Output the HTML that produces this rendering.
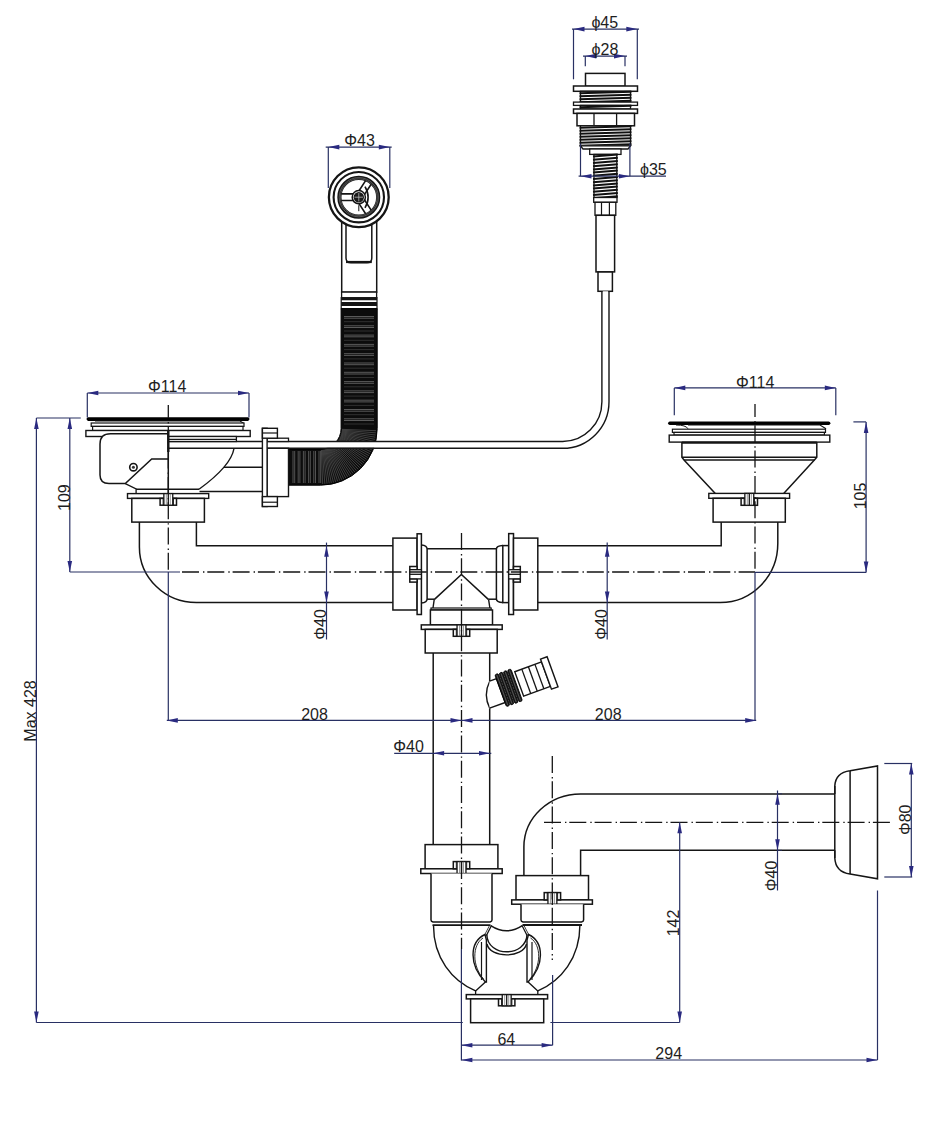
<!DOCTYPE html>
<html><head><meta charset="utf-8"><style>
html,body{margin:0;padding:0;background:#fff;overflow:hidden;}
svg{display:block;font-family:"Liberation Sans",sans-serif;}
</style></head><body>
<svg width="927" height="1139" viewBox="0 0 927 1139">
<rect width="927" height="1139" fill="#fff"/>
<rect x="585.5" y="73.4" width="39.5" height="12.9" fill="#fff" stroke="#151515" stroke-width="1.5" />
<rect x="573.5" y="86" width="64.0" height="5.3" fill="#fff" stroke="#151515" stroke-width="1.5" />
<rect x="580.5" y="91.3" width="50.0" height="10.8" fill="#fff" stroke="#151515" stroke-width="1.3" />
<line x1="579.5" y1="93.25" x2="631.5" y2="91.75" stroke="#111" stroke-width="2.0" />
<line x1="579.5" y1="96.25" x2="631.5" y2="94.75" stroke="#111" stroke-width="2.0" />
<line x1="579.5" y1="99.25" x2="631.5" y2="97.75" stroke="#111" stroke-width="2.0" />
<line x1="579.5" y1="102.25" x2="631.5" y2="100.75" stroke="#111" stroke-width="2.0" />
<rect x="573.5" y="102.1" width="64.0" height="3.3" fill="#fff" stroke="#151515" stroke-width="1.3" />
<rect x="580.5" y="105.4" width="50.0" height="3.6" fill="#fff" stroke="#151515" stroke-width="1.3" />
<line x1="579.5" y1="107.35000000000001" x2="631.5" y2="105.85000000000001" stroke="#111" stroke-width="2.0" />
<rect x="573.5" y="109" width="64.0" height="4.4" fill="#fff" stroke="#151515" stroke-width="1.5" />
<rect x="577" y="113.4" width="57.5" height="12.4" fill="#fff" stroke="#151515" stroke-width="1.5" />
<line x1="594" y1="113.4" x2="594" y2="125.8" stroke="#151515" stroke-width="1.3" />
<line x1="616.6" y1="113.4" x2="616.6" y2="125.8" stroke="#151515" stroke-width="1.3" />
<rect x="580.5" y="125.8" width="50.0" height="20.0" fill="#fff" stroke="#151515" stroke-width="1.3" />
<line x1="579.5" y1="127.75" x2="631.5" y2="126.25" stroke="#111" stroke-width="2.0" />
<line x1="579.5" y1="130.75" x2="631.5" y2="129.25" stroke="#111" stroke-width="2.0" />
<line x1="579.5" y1="133.75" x2="631.5" y2="132.25" stroke="#111" stroke-width="2.0" />
<line x1="579.5" y1="136.75" x2="631.5" y2="135.25" stroke="#111" stroke-width="2.0" />
<line x1="579.5" y1="139.75" x2="631.5" y2="138.25" stroke="#111" stroke-width="2.0" />
<line x1="579.5" y1="142.75" x2="631.5" y2="141.25" stroke="#111" stroke-width="2.0" />
<line x1="579.5" y1="145.75" x2="631.5" y2="144.25" stroke="#111" stroke-width="2.0" />
<path d="M580.5,145.8 L630.5,145.8 L628,149 L583,149 Z" fill="#fff" stroke="#151515" stroke-width="1.3" />
<rect x="589.7" y="149" width="31.3" height="5.4" fill="#fff" stroke="#151515" stroke-width="1.3" />
<rect x="594" y="154.4" width="22.8" height="43.1" fill="#fff" stroke="#151515" stroke-width="1.3" />
<line x1="593" y1="156.6" x2="617.8" y2="154.6" stroke="#111" stroke-width="2.0" />
<line x1="593" y1="159.79999999999998" x2="617.8" y2="157.79999999999998" stroke="#111" stroke-width="2.0" />
<line x1="593" y1="162.99999999999997" x2="617.8" y2="160.99999999999997" stroke="#111" stroke-width="2.0" />
<line x1="593" y1="166.19999999999996" x2="617.8" y2="164.19999999999996" stroke="#111" stroke-width="2.0" />
<line x1="593" y1="169.39999999999995" x2="617.8" y2="167.39999999999995" stroke="#111" stroke-width="2.0" />
<line x1="593" y1="172.59999999999994" x2="617.8" y2="170.59999999999994" stroke="#111" stroke-width="2.0" />
<line x1="593" y1="175.79999999999993" x2="617.8" y2="173.79999999999993" stroke="#111" stroke-width="2.0" />
<line x1="593" y1="178.99999999999991" x2="617.8" y2="176.99999999999991" stroke="#111" stroke-width="2.0" />
<line x1="593" y1="182.1999999999999" x2="617.8" y2="180.1999999999999" stroke="#111" stroke-width="2.0" />
<line x1="593" y1="185.3999999999999" x2="617.8" y2="183.3999999999999" stroke="#111" stroke-width="2.0" />
<line x1="593" y1="188.59999999999988" x2="617.8" y2="186.59999999999988" stroke="#111" stroke-width="2.0" />
<line x1="593" y1="191.79999999999987" x2="617.8" y2="189.79999999999987" stroke="#111" stroke-width="2.0" />
<line x1="593" y1="194.99999999999986" x2="617.8" y2="192.99999999999986" stroke="#111" stroke-width="2.0" />
<line x1="593" y1="198.19999999999985" x2="617.8" y2="196.19999999999985" stroke="#111" stroke-width="2.0" />
<rect x="593.7" y="197.5" width="23.3" height="4.8" fill="#fff" stroke="#151515" stroke-width="1.3" />
<rect x="595" y="202.3" width="20.8" height="13.0" fill="#fff" stroke="#151515" stroke-width="1.3" />
<line x1="601.5" y1="202.3" x2="601.5" y2="215.3" stroke="#151515" stroke-width="1.2" />
<line x1="609.4" y1="202.3" x2="609.4" y2="215.3" stroke="#151515" stroke-width="1.2" />
<rect x="596" y="215.3" width="18.6" height="56.6" fill="#fff" stroke="#151515" stroke-width="1.5" />
<rect x="598" y="272" width="14.4" height="19.3" fill="#fff" stroke="#151515" stroke-width="1.5" />
<rect x="341.7" y="215" width="35.0" height="77.1" fill="#fff" stroke="#151515" stroke-width="1.5" />
<path d="M346,222 L346,258 Q346,262.8 351,262.8 L367,262.8 Q371.8,262.8 371.8,258 L371.8,222" fill="none" stroke="#151515" stroke-width="1.5" />
<line x1="346" y1="262" x2="371.8" y2="262" stroke="#151515" stroke-width="2.2" />
<circle cx="358.8" cy="197.2" r="29.9" fill="#fff" stroke="#151515" stroke-width="2.3"/>
<circle cx="358.8" cy="197.2" r="25.2" fill="#fff" stroke="#151515" stroke-width="2.1"/>
<circle cx="358.8" cy="197.2" r="19.4" fill="#fff" stroke="#161616" stroke-width="4.2"/>
<circle cx="358.8" cy="197.2" r="19.6" fill="none" stroke="#999" stroke-width="0.5"/>
<circle cx="358.8" cy="197.2" r="18.3" fill="none" stroke="#aaa" stroke-width="0.4"/>
<g transform="translate(358.8,197.2) rotate(-180)"><path d="M4,-3.3 L17.6,-3.3 M4,3.3 L17.6,3.3" fill="none" stroke="#151515" stroke-width="1.6"/></g>
<g transform="translate(358.8,197.2) rotate(-57)"><path d="M4,-3.3 L17.6,-3.3 M4,3.3 L17.6,3.3" fill="none" stroke="#151515" stroke-width="1.6"/></g>
<g transform="translate(358.8,197.2) rotate(57)"><path d="M4,-3.3 L17.6,-3.3 M4,3.3 L17.6,3.3" fill="none" stroke="#151515" stroke-width="1.6"/></g>
<path d="M365.0,186.6 Q368.3,192.2 368.1,197.2 Q368.3,202.2 365.0,207.79999999999998" fill="none" stroke="#151515" stroke-width="1.6"/>
<circle cx="358.8" cy="197.2" r="6.6" fill="#fff" stroke="#151515" stroke-width="1.5"/>
<circle cx="358.8" cy="197.2" r="5.2" fill="#1a1a1a"/>
<line x1="354.6" y1="197.2" x2="363.0" y2="197.2" stroke="#ccc" stroke-width="0.7" />
<line x1="358.8" y1="193.0" x2="358.8" y2="201.39999999999998" stroke="#ccc" stroke-width="0.7" />
<line x1="358.8" y1="205.2" x2="358.8" y2="211.2" stroke="#151515" stroke-width="1.0" />
<rect x="341.6" y="292.1" width="35.0" height="5.6" fill="#fff" stroke="#151515" stroke-width="1.3" />
<rect x="341.2" y="297.7" width="35.8" height="11.0" fill="#fff" stroke="#151515" stroke-width="1.2" />
<line x1="341.2" y1="299" x2="377" y2="299" stroke="#151515" stroke-width="2.4" />
<line x1="341.2" y1="304" x2="377" y2="304" stroke="#151515" stroke-width="4" />
<g>
<path d="M341.1,308.7 L377.2,308.7 L377.2,428.5 A56.7,56.7 0 0 1 320.5,485.2 L288.5,485.2 L288.5,449.1 L320.5,449.1 A20.6,20.6 0 0 0 341.1,428.5 Z" fill="#0c0c0c" stroke="#000" stroke-width="1"/>
<line x1="344" y1="316.5" x2="374" y2="316.5" stroke="#a8a8a8" stroke-width="0.5" />
<line x1="344" y1="318.2" x2="374" y2="318.2" stroke="#a8a8a8" stroke-width="0.5" />
<line x1="344" y1="321.7" x2="374" y2="321.7" stroke="#555" stroke-width="0.5" />
<line x1="344" y1="325.8" x2="374" y2="325.8" stroke="#a8a8a8" stroke-width="0.5" />
<line x1="344" y1="327.5" x2="374" y2="327.5" stroke="#a8a8a8" stroke-width="0.5" />
<line x1="344" y1="331.0" x2="374" y2="331.0" stroke="#555" stroke-width="0.5" />
<line x1="344" y1="335.1" x2="374" y2="335.1" stroke="#a8a8a8" stroke-width="0.5" />
<line x1="344" y1="336.8" x2="374" y2="336.8" stroke="#a8a8a8" stroke-width="0.5" />
<line x1="344" y1="340.3" x2="374" y2="340.3" stroke="#555" stroke-width="0.5" />
<line x1="344" y1="344.40000000000003" x2="374" y2="344.40000000000003" stroke="#a8a8a8" stroke-width="0.5" />
<line x1="344" y1="346.1" x2="374" y2="346.1" stroke="#a8a8a8" stroke-width="0.5" />
<line x1="344" y1="349.6" x2="374" y2="349.6" stroke="#555" stroke-width="0.5" />
<line x1="344" y1="353.70000000000005" x2="374" y2="353.70000000000005" stroke="#a8a8a8" stroke-width="0.5" />
<line x1="344" y1="355.40000000000003" x2="374" y2="355.40000000000003" stroke="#a8a8a8" stroke-width="0.5" />
<line x1="344" y1="358.90000000000003" x2="374" y2="358.90000000000003" stroke="#555" stroke-width="0.5" />
<line x1="344" y1="363.00000000000006" x2="374" y2="363.00000000000006" stroke="#a8a8a8" stroke-width="0.5" />
<line x1="344" y1="364.70000000000005" x2="374" y2="364.70000000000005" stroke="#a8a8a8" stroke-width="0.5" />
<line x1="344" y1="368.20000000000005" x2="374" y2="368.20000000000005" stroke="#555" stroke-width="0.5" />
<line x1="344" y1="372.30000000000007" x2="374" y2="372.30000000000007" stroke="#a8a8a8" stroke-width="0.5" />
<line x1="344" y1="374.00000000000006" x2="374" y2="374.00000000000006" stroke="#a8a8a8" stroke-width="0.5" />
<line x1="344" y1="377.50000000000006" x2="374" y2="377.50000000000006" stroke="#555" stroke-width="0.5" />
<line x1="344" y1="381.6000000000001" x2="374" y2="381.6000000000001" stroke="#a8a8a8" stroke-width="0.5" />
<line x1="344" y1="383.30000000000007" x2="374" y2="383.30000000000007" stroke="#a8a8a8" stroke-width="0.5" />
<line x1="344" y1="386.80000000000007" x2="374" y2="386.80000000000007" stroke="#555" stroke-width="0.5" />
<line x1="344" y1="390.9000000000001" x2="374" y2="390.9000000000001" stroke="#a8a8a8" stroke-width="0.5" />
<line x1="344" y1="392.6000000000001" x2="374" y2="392.6000000000001" stroke="#a8a8a8" stroke-width="0.5" />
<line x1="344" y1="396.1000000000001" x2="374" y2="396.1000000000001" stroke="#555" stroke-width="0.5" />
<line x1="344" y1="400.2000000000001" x2="374" y2="400.2000000000001" stroke="#a8a8a8" stroke-width="0.5" />
<line x1="344" y1="401.9000000000001" x2="374" y2="401.9000000000001" stroke="#a8a8a8" stroke-width="0.5" />
<line x1="344" y1="405.4000000000001" x2="374" y2="405.4000000000001" stroke="#555" stroke-width="0.5" />
<line x1="344" y1="409.5000000000001" x2="374" y2="409.5000000000001" stroke="#a8a8a8" stroke-width="0.5" />
<line x1="344" y1="411.2000000000001" x2="374" y2="411.2000000000001" stroke="#a8a8a8" stroke-width="0.5" />
<line x1="344" y1="414.7000000000001" x2="374" y2="414.7000000000001" stroke="#555" stroke-width="0.5" />
<line x1="344" y1="418.8000000000001" x2="374" y2="418.8000000000001" stroke="#a8a8a8" stroke-width="0.5" />
<line x1="344" y1="420.5000000000001" x2="374" y2="420.5000000000001" stroke="#a8a8a8" stroke-width="0.5" />
<line x1="344" y1="424.0000000000001" x2="374" y2="424.0000000000001" stroke="#555" stroke-width="0.5" />
<line x1="293" y1="451" x2="293" y2="483" stroke="#9a9a9a" stroke-width="0.5" />
<line x1="294.7" y1="451" x2="294.7" y2="483" stroke="#9a9a9a" stroke-width="0.5" />
<line x1="298.2" y1="451" x2="298.2" y2="483" stroke="#9a9a9a" stroke-width="0.5" />
<line x1="299.9" y1="451" x2="299.9" y2="483" stroke="#9a9a9a" stroke-width="0.5" />
<line x1="303.4" y1="451" x2="303.4" y2="483" stroke="#9a9a9a" stroke-width="0.5" />
<line x1="305.09999999999997" y1="451" x2="305.09999999999997" y2="483" stroke="#9a9a9a" stroke-width="0.5" />
<line x1="308.59999999999997" y1="451" x2="308.59999999999997" y2="483" stroke="#9a9a9a" stroke-width="0.5" />
<line x1="310.29999999999995" y1="451" x2="310.29999999999995" y2="483" stroke="#9a9a9a" stroke-width="0.5" />
<line x1="313.79999999999995" y1="451" x2="313.79999999999995" y2="483" stroke="#9a9a9a" stroke-width="0.5" />
<line x1="315.49999999999994" y1="451" x2="315.49999999999994" y2="483" stroke="#9a9a9a" stroke-width="0.5" />
<line x1="318.99999999999994" y1="451" x2="318.99999999999994" y2="483" stroke="#9a9a9a" stroke-width="0.5" />
<line x1="320.69999999999993" y1="451" x2="320.69999999999993" y2="483" stroke="#9a9a9a" stroke-width="0.5" />
<line x1="341.98342427917555" y1="429.34408603881997" x2="375.95721151136013" y2="430.6789197746283" stroke="#6a6a6a" stroke-width="0.55" />
<line x1="341.93372267526223" y1="430.18687055814866" x2="375.8289120221886" y2="432.8544798128954" stroke="#6a6a6a" stroke-width="0.55" />
<line x1="341.8509718245309" y1="431.0270540453435" x2="375.6152993609984" y2="435.02332555891" stroke="#6a6a6a" stroke-width="0.55" />
<line x1="341.73529932279547" y1="431.86334099836495" x2="375.31670290303015" y2="437.1821128097328" stroke="#6a6a6a" stroke-width="0.55" />
<line x1="341.58688352866943" y1="432.69444192334674" x2="374.9335830623793" y2="439.3275128718951" stroke="#6a6a6a" stroke-width="0.55" />
<line x1="341.40595328855005" y1="433.519075322902" x2="374.4665305820711" y2="441.45621769400276" stroke="#6a6a6a" stroke-width="0.55" />
<line x1="341.19278758375344" y1="434.3359696720991" x2="373.9162656231774" y2="443.5649449675116" stroke="#6a6a6a" stroke-width="0.55" />
<line x1="340.9477151003458" y1="435.14386537906137" x2="373.28363665438104" y2="445.65044318780957" stroke="#6a6a6a" stroke-width="0.55" />
<line x1="340.6711137223334" y1="435.9415167271661" x2="372.5696191436979" y2="447.70949666780086" stroke="#6a6a6a" stroke-width="0.55" />
<line x1="340.3634099489927" y1="436.7276937958494" x2="371.7753140543764" y2="449.73893049626247" stroke="#6a6a6a" stroke-width="0.55" />
<line x1="340.02507823723926" y1="437.5011843570547" x2="370.901946147292" y2="451.73561543332727" stroke="#6a6a6a" stroke-width="0.55" />
<line x1="339.65664027004993" y1="438.26079574440024" x2="369.95086209245443" y2="453.69647273554483" stroke="#6a6a6a" stroke-width="0.55" />
<line x1="339.25866415206514" y1="439.00535669218453" x2="368.9235283925402" y2="455.618478903081" stroke="#6a6a6a" stroke-width="0.55" />
<line x1="338.83176353361296" y1="439.7337191413929" x2="367.82152912165213" y2="457.49867034173514" stroke="#6a6a6a" stroke-width="0.55" />
<line x1="338.37659666450475" y1="440.4447600099214" x2="366.64656348279124" y2="459.33414793258794" stroke="#6a6a6a" stroke-width="0.55" />
<line x1="337.89386537906137" y1="441.13738292428815" x2="365.40044318780957" y2="461.1220815022323" stroke="#6a6a6a" stroke-width="0.55" />
<line x1="337.38431401393603" y1="441.8105199101614" x2="364.0850896638813" y2="462.8597141866958" stroke="#6a6a6a" stroke-width="0.55" />
<line x1="336.84872826040066" y1="442.4631330390989" x2="362.7025310908017" y2="464.5443666823252" stroke="#6a6a6a" stroke-width="0.55" />
<line x1="336.28793395286726" y1="443.0942160289583" x2="361.25489927368056" y2="466.17344137707823" stroke="#6a6a6a" stroke-width="0.55" />
<line x1="335.7027957955108" y1="443.7027957955108" x2="359.7444263558534" y2="467.74442635585336" stroke="#6a6a6a" stroke-width="0.55" />
<line x1="335.0942160289583" y1="444.28793395286726" x2="358.1734413770783" y2="469.25489927368056" stroke="#6a6a6a" stroke-width="0.55" />
<line x1="334.4631330390989" y1="444.84872826040066" x2="356.5443666823252" y2="470.7025310908017" stroke="#6a6a6a" stroke-width="0.55" />
<line x1="333.8105199101614" y1="445.38431401393603" x2="354.8597141866958" y2="472.0850896638813" stroke="#6a6a6a" stroke-width="0.55" />
<line x1="333.13738292428815" y1="445.89386537906137" x2="353.1220815022323" y2="473.40044318780957" stroke="#6a6a6a" stroke-width="0.55" />
<line x1="332.4447600099214" y1="446.37659666450475" x2="351.33414793258794" y2="474.64656348279124" stroke="#6a6a6a" stroke-width="0.55" />
<line x1="331.7337191413929" y1="446.83176353361296" x2="349.4986703417352" y2="475.82152912165213" stroke="#6a6a6a" stroke-width="0.55" />
<line x1="331.00535669218453" y1="447.25866415206514" x2="347.618478903081" y2="476.9235283925402" stroke="#6a6a6a" stroke-width="0.55" />
<line x1="330.26079574440024" y1="447.65664027004993" x2="345.69647273554483" y2="477.95086209245443" stroke="#6a6a6a" stroke-width="0.55" />
<line x1="329.5011843570547" y1="448.02507823723926" x2="343.73561543332727" y2="478.901946147292" stroke="#6a6a6a" stroke-width="0.55" />
<line x1="328.7276937958494" y1="448.3634099489927" x2="341.73893049626247" y2="479.7753140543764" stroke="#6a6a6a" stroke-width="0.55" />
<line x1="327.9415167271661" y1="448.6711137223334" x2="339.70949666780086" y2="480.5696191436979" stroke="#6a6a6a" stroke-width="0.55" />
<line x1="327.14386537906137" y1="448.9477151003458" x2="337.65044318780957" y2="481.28363665438104" stroke="#6a6a6a" stroke-width="0.55" />
<line x1="326.3359696720991" y1="449.19278758375344" x2="335.5649449675116" y2="481.9162656231774" stroke="#6a6a6a" stroke-width="0.55" />
<line x1="325.519075322902" y1="449.40595328855005" x2="333.45621769400276" y2="482.4665305820711" stroke="#6a6a6a" stroke-width="0.55" />
<line x1="324.69444192334674" y1="449.58688352866943" x2="331.3275128718951" y2="482.9335830623793" stroke="#6a6a6a" stroke-width="0.55" />
<line x1="323.86334099836495" y1="449.73529932279547" x2="329.1821128097328" y2="483.31670290303015" stroke="#6a6a6a" stroke-width="0.55" />
<line x1="323.0270540453435" y1="449.8509718245309" x2="327.02332555891" y2="483.6152993609984" stroke="#6a6a6a" stroke-width="0.55" />
<line x1="322.18687055814866" y1="449.93372267526223" x2="324.8544798128954" y2="483.8289120221886" stroke="#6a6a6a" stroke-width="0.55" />
<line x1="321.34408603881997" y1="449.98342427917555" x2="322.6789197746283" y2="483.95721151136013" stroke="#6a6a6a" stroke-width="0.55" />
</g>
<path d="M605.45,291.3 L605.45,401.7 A42.75,43.2 0 0 1 562.7,444.9 L168.3,444.9" fill="none" stroke="#fff" stroke-width="5.6" />
<path d="M601.9,291.3 L601.9,401.7 A39.2,39.8 0 0 1 562.7,441.5 L168.3,441.5" fill="none" stroke="#151515" stroke-width="1.4" />
<path d="M609,291.3 L609,401.7 A46.3,46.6 0 0 1 562.7,448.3 L168.3,448.3" fill="none" stroke="#151515" stroke-width="1.4" />
<rect x="86.5" y="417.3" width="163.0" height="3.6" fill="#000" stroke="none" stroke-width="0" rx="1.8"/>
<path d="M95,421 L240,421 L244,423.5" fill="none" stroke="#151515" stroke-width="1.2" />
<rect x="91.2" y="423" width="152.8" height="3.4" fill="#fff" stroke="#151515" stroke-width="1.2" />
<rect x="92.6" y="426.4" width="150.4" height="4.1" fill="#fff" stroke="#151515" stroke-width="1.2" />
<rect x="85.9" y="430.5" width="164.3" height="6.0" fill="#fff" stroke="#151515" stroke-width="1.4" />
<rect x="168.3" y="436.5" width="68.1" height="5.0" fill="#fff" stroke="#151515" stroke-width="1.3" />
<line x1="168.3" y1="439.4" x2="236.4" y2="439.4" stroke="#151515" stroke-width="1.1" />
<path d="M168.3,433.8 L110.5,433.8 Q100,433.8 100,444 L100,475 Q100,483.6 109,483.6 L125.3,483.6 L151.7,458.9 L168.3,458.9" fill="#fff" stroke="#151515" stroke-width="1.5" />
<path d="M125.3,483.6 L136.1,488.8 L136.1,493.6" fill="none" stroke="#151515" stroke-width="1.3" />
<circle cx="133.4" cy="467.2" r="3.7" fill="#fff" stroke="#151515" stroke-width="1.6"/>
<circle cx="133.4" cy="467.2" r="1.5" fill="#333" stroke="none"/>
<line x1="168.3" y1="430.5" x2="168.3" y2="493.6" stroke="#151515" stroke-width="1.5" />
<line x1="168.3" y1="430.5" x2="168.3" y2="452" stroke="#151515" stroke-width="2.4" />
<line x1="136.1" y1="489.3" x2="199" y2="489.3" stroke="#151515" stroke-width="1.4" />
<path d="M199,489.3 Q231,466 234,448.5" fill="none" stroke="#151515" stroke-width="1.4" />
<line x1="223.8" y1="467.2" x2="262.4" y2="467.2" stroke="#151515" stroke-width="1.4" />
<line x1="199.5" y1="491.5" x2="262.4" y2="491.5" stroke="#151515" stroke-width="1.4" />
<rect x="127.5" y="493.6" width="81.2" height="4.8" fill="#fff" stroke="#151515" stroke-width="1.4" />
<rect x="131.8" y="498.4" width="72.6" height="23.7" fill="#fff" stroke="#151515" stroke-width="1.5" />
<rect x="160.10000000000002" y="498.4" width="16.4" height="6.8" fill="#fff" stroke="#151515" stroke-width="1.5" />
<rect x="163.85000000000002" y="493.6" width="8.9" height="11.6" fill="#fff" stroke="#151515" stroke-width="1.3" />
<line x1="168.3" y1="493.6" x2="168.3" y2="505.2" stroke="#151515" stroke-width="1.3" />
<line x1="163.10000000000002" y1="498.4" x2="163.10000000000002" y2="505.2" stroke="#151515" stroke-width="0.9" />
<line x1="173.5" y1="498.4" x2="173.5" y2="505.2" stroke="#151515" stroke-width="0.9" />
<line x1="166.3" y1="493.6" x2="166.3" y2="505.2" stroke="#555" stroke-width="0.6" />
<line x1="170.3" y1="493.6" x2="170.3" y2="505.2" stroke="#555" stroke-width="0.6" />
<rect x="267.1" y="438.2" width="21.4" height="3.3" fill="#fff" stroke="#151515" stroke-width="1.3" />
<rect x="267.1" y="448.3" width="21.4" height="48.3" fill="#fff" stroke="#151515" stroke-width="1.4" />
<rect x="262.4" y="428.3" width="4.7" height="78.2" fill="#fff" stroke="#151515" stroke-width="1.4" />
<rect x="262.4" y="428.3" width="15.0" height="9.9" fill="#fff" stroke="#151515" stroke-width="1.4" />
<line x1="262.4" y1="433" x2="277.4" y2="433" stroke="#151515" stroke-width="1.2" />
<rect x="262.4" y="496.6" width="15.0" height="9.9" fill="#fff" stroke="#151515" stroke-width="1.4" />
<line x1="262.4" y1="502.2" x2="277.4" y2="502.2" stroke="#151515" stroke-width="1.2" />
<path d="M139.4,522.1 L139.4,547 A57,55.6 0 0 0 196.4,602.6 L392.9,602.6" fill="none" stroke="#151515" stroke-width="1.5" />
<path d="M196.4,522.1 L196.4,545.8 L392.9,545.8" fill="none" stroke="#151515" stroke-width="1.5" />
<rect x="392.9" y="538.1" width="24.2" height="71.9" fill="#fff" stroke="#151515" stroke-width="1.5" />
<rect x="417.1" y="533.8" width="4.3" height="80.7" fill="#fff" stroke="#151515" stroke-width="1.5" />
<rect x="409.8" y="566.5" width="7.3" height="15.6" fill="#fff" stroke="#151515" stroke-width="1.5" />
<rect x="409.8" y="569.6999999999999" width="11.6" height="9.2" fill="#fff" stroke="#151515" stroke-width="1.3" />
<line x1="409.8" y1="574.3" x2="421.4" y2="574.3" stroke="#151515" stroke-width="1.3" />
<line x1="409.8" y1="569.5" x2="417.1" y2="569.5" stroke="#151515" stroke-width="0.9" />
<line x1="409.8" y1="579.0999999999999" x2="417.1" y2="579.0999999999999" stroke="#151515" stroke-width="0.9" />
<path d="M421.4,545 Q427.1,545.5 427.1,549 L427.1,599 Q427.1,602.5 421.4,603" fill="none" stroke="#151515" stroke-width="1.5" />
<line x1="427.1" y1="548.7" x2="496.4" y2="548.7" stroke="#151515" stroke-width="1.5" />
<line x1="427.1" y1="599.2" x2="434.2" y2="599.2" stroke="#151515" stroke-width="1.5" />
<line x1="488.6" y1="599.2" x2="496.4" y2="599.2" stroke="#151515" stroke-width="1.5" />
<path d="M502.8,545.6 Q496.4,546 496.4,549 L496.4,599 Q496.4,602.2 502.8,602.6" fill="none" stroke="#151515" stroke-width="1.5" />
<rect x="502.8" y="545.6" width="5.9" height="57.0" fill="#fff" stroke="#151515" stroke-width="1.5" />
<rect x="508.7" y="533.6" width="4.8" height="80.9" fill="#fff" stroke="#151515" stroke-width="1.5" />
<rect x="513.5" y="538.1" width="24.3" height="71.9" fill="#fff" stroke="#151515" stroke-width="1.5" />
<rect x="513.5" y="566.5" width="6.8" height="15.6" fill="#fff" stroke="#151515" stroke-width="1.5" />
<rect x="508.7" y="569.6999999999999" width="11.6" height="9.2" fill="#fff" stroke="#151515" stroke-width="1.3" />
<line x1="508.7" y1="574.3" x2="520.3" y2="574.3" stroke="#151515" stroke-width="1.3" />
<line x1="513.5" y1="569.5" x2="520.3" y2="569.5" stroke="#151515" stroke-width="0.9" />
<line x1="513.5" y1="579.0999999999999" x2="520.3" y2="579.0999999999999" stroke="#151515" stroke-width="0.9" />
<path d="M434.2,599.6 L461.4,574.4 L488.6,599.6" fill="none" stroke="#151515" stroke-width="1.5" />
<path d="M434.2,599.6 L433,608 M488.6,599.6 L489.9,608" fill="none" stroke="#151515" stroke-width="1.4" />
<rect x="431" y="608" width="60.2" height="2" fill="#fff" stroke="#151515" stroke-width="1.2" />
<rect x="430.4" y="610" width="62.1" height="14.9" fill="#fff" stroke="#151515" stroke-width="1.5" />
<rect x="421.3" y="624.9" width="80.9" height="4.5" fill="#fff" stroke="#151515" stroke-width="1.5" />
<rect x="425.2" y="629.4" width="72.0" height="23.6" fill="#fff" stroke="#151515" stroke-width="1.5" />
<rect x="453.3" y="629.4" width="16.4" height="6.9" fill="#fff" stroke="#151515" stroke-width="1.5" />
<rect x="457.05" y="624.9" width="8.9" height="11.4" fill="#fff" stroke="#151515" stroke-width="1.3" />
<line x1="461.5" y1="624.9" x2="461.5" y2="636.3" stroke="#151515" stroke-width="1.3" />
<line x1="456.3" y1="629.4" x2="456.3" y2="636.3" stroke="#151515" stroke-width="0.9" />
<line x1="466.7" y1="629.4" x2="466.7" y2="636.3" stroke="#151515" stroke-width="0.9" />
<line x1="459.5" y1="624.9" x2="459.5" y2="636.3" stroke="#555" stroke-width="0.6" />
<line x1="463.5" y1="624.9" x2="463.5" y2="636.3" stroke="#555" stroke-width="0.6" />
<path d="M537.8,545.8 L721.2,545.8 L721.2,522.1" fill="none" stroke="#151515" stroke-width="1.5" />
<path d="M537.8,602.6 L720.3,602.6 A57.5,59 0 0 0 777.8,543.5 L777.8,522.1" fill="none" stroke="#151515" stroke-width="1.5" />
<rect x="668.1" y="421.5" width="162.3" height="3.6" fill="#000" stroke="none" stroke-width="0" rx="1.8"/>
<path d="M688,425 L820,425 L826,428.8" fill="none" stroke="#151515" stroke-width="1.2" />
<path d="M676,425 Q686,425 688,428.8" fill="none" stroke="#151515" stroke-width="1.0" />
<rect x="672.4" y="429.2" width="153.1" height="3.2" fill="#fff" stroke="#151515" stroke-width="1.2" />
<rect x="674" y="432.4" width="150.4" height="2.7" fill="#fff" stroke="#151515" stroke-width="1.2" />
<rect x="669.2" y="435.1" width="160.6" height="7.0" fill="#fff" stroke="#151515" stroke-width="1.4" />
<line x1="681.9" y1="442.6" x2="816.8" y2="442.6" stroke="#151515" stroke-width="2.2" />
<path d="M681.9,442.1 L681.9,457.3 L684,460 L715.3,493.4 M816.8,442.1 L816.8,457.3 L814.4,460 L783.7,493.4" fill="none" stroke="#151515" stroke-width="1.5" />
<line x1="681.9" y1="457.3" x2="816.8" y2="457.3" stroke="#151515" stroke-width="1.4" />
<line x1="684" y1="460" x2="814.4" y2="460" stroke="#151515" stroke-width="1.4" />
<rect x="708.8" y="493.4" width="80.8" height="4.9" fill="#fff" stroke="#151515" stroke-width="1.4" />
<rect x="713.1" y="498.3" width="72.2" height="23.8" fill="#fff" stroke="#151515" stroke-width="1.5" />
<rect x="741.0999999999999" y="498.3" width="16.4" height="7.0" fill="#fff" stroke="#151515" stroke-width="1.5" />
<rect x="744.8499999999999" y="493.4" width="8.9" height="11.9" fill="#fff" stroke="#151515" stroke-width="1.3" />
<line x1="749.3" y1="493.4" x2="749.3" y2="505.3" stroke="#151515" stroke-width="1.3" />
<line x1="744.0999999999999" y1="498.3" x2="744.0999999999999" y2="505.3" stroke="#151515" stroke-width="0.9" />
<line x1="754.5" y1="498.3" x2="754.5" y2="505.3" stroke="#151515" stroke-width="0.9" />
<line x1="747.3" y1="493.4" x2="747.3" y2="505.3" stroke="#555" stroke-width="0.6" />
<line x1="751.3" y1="493.4" x2="751.3" y2="505.3" stroke="#555" stroke-width="0.6" />
<line x1="433.2" y1="653" x2="433.2" y2="844.6" stroke="#151515" stroke-width="1.5" />
<line x1="489.7" y1="653" x2="489.7" y2="681.2" stroke="#151515" stroke-width="1.5" />
<line x1="489.7" y1="708.3" x2="489.7" y2="844.6" stroke="#151515" stroke-width="1.5" />
<rect x="425.1" y="844.6" width="72.8" height="24.2" fill="#fff" stroke="#151515" stroke-width="1.5" />
<rect x="420.8" y="868.8" width="81.4" height="4.7" fill="#fff" stroke="#151515" stroke-width="1.5" />
<rect x="453.3" y="861.6" width="16.4" height="7.2" fill="#fff" stroke="#151515" stroke-width="1.5" />
<rect x="457.05" y="861.6" width="8.9" height="11.9" fill="#fff" stroke="#151515" stroke-width="1.3" />
<line x1="461.5" y1="861.6" x2="461.5" y2="873.5" stroke="#151515" stroke-width="1.3" />
<line x1="456.3" y1="861.6" x2="456.3" y2="868.8" stroke="#151515" stroke-width="0.9" />
<line x1="466.7" y1="861.6" x2="466.7" y2="868.8" stroke="#151515" stroke-width="0.9" />
<line x1="459.5" y1="861.6" x2="459.5" y2="873.5" stroke="#555" stroke-width="0.6" />
<line x1="463.5" y1="861.6" x2="463.5" y2="873.5" stroke="#555" stroke-width="0.6" />
<path d="M431,873.5 L431,920 Q431,921.5 433,922 L490,922 Q492,921.5 492,920 L492,873.5" fill="#fff" stroke="#151515" stroke-width="1.5" />
<line x1="432.5" y1="925.2" x2="490.5" y2="925.2" stroke="#151515" stroke-width="1.8" />
<path d="M489.7,681.2 Q483,694.7 489.7,708.3" fill="#fff" stroke="#151515" stroke-width="1.4" />
<g transform="translate(489.6,694.7) rotate(-20)">
<path d="M4.6,-12.7 L12,-12.7 L12,12.7 L-4.6,12.7" fill="#fff" stroke="#151515" stroke-width="1.4"/>
<rect x="31.5" y="-13" width="28.5" height="26" fill="#fff" stroke="#151515" stroke-width="1.4" />
<line x1="39" y1="-13" x2="39" y2="13" stroke="#151515" stroke-width="1.3" />
<line x1="46" y1="-13" x2="46" y2="13" stroke="#151515" stroke-width="1.3" />
<line x1="53" y1="-13" x2="53" y2="13" stroke="#151515" stroke-width="1.3" />
<rect x="60" y="-16" width="7" height="32" fill="#fff" stroke="#151515" stroke-width="1.4" />
<rect x="11.7" y="-17" width="3.6" height="34" rx="1.5" fill="#1a1a1a" stroke="#000" stroke-width="0.8"/>
<line x1="13.5" y1="-16" x2="13.5" y2="16" stroke="#888" stroke-width="0.5" />
<rect x="16.2" y="-17" width="3.6" height="34" rx="1.5" fill="#1a1a1a" stroke="#000" stroke-width="0.8"/>
<line x1="18" y1="-16" x2="18" y2="16" stroke="#888" stroke-width="0.5" />
<rect x="20.7" y="-17" width="3.6" height="34" rx="1.5" fill="#1a1a1a" stroke="#000" stroke-width="0.8"/>
<line x1="22.5" y1="-16" x2="22.5" y2="16" stroke="#888" stroke-width="0.5" />
<rect x="25.2" y="-17" width="3.6" height="34" rx="1.5" fill="#1a1a1a" stroke="#000" stroke-width="0.8"/>
<line x1="27" y1="-16" x2="27" y2="16" stroke="#888" stroke-width="0.5" />
</g>
<path d="M523.9,876 L523.9,847.1 A56.7,53 0 0 1 580.6,794 L834.8,794" fill="none" stroke="#151515" stroke-width="1.5" />
<path d="M580.6,876 L580.6,850.3 L834.8,850.3" fill="none" stroke="#151515" stroke-width="1.5" />
<rect x="516" y="875.6" width="72.5" height="24.3" fill="#fff" stroke="#151515" stroke-width="1.5" />
<rect x="511.7" y="899.9" width="80.7" height="4.3" fill="#fff" stroke="#151515" stroke-width="1.5" />
<rect x="544.1999999999999" y="892.6" width="16.4" height="7.3" fill="#fff" stroke="#151515" stroke-width="1.5" />
<rect x="547.9499999999999" y="892.6" width="8.9" height="11.6" fill="#fff" stroke="#151515" stroke-width="1.3" />
<line x1="552.4" y1="892.6" x2="552.4" y2="904.2" stroke="#151515" stroke-width="1.3" />
<line x1="547.1999999999999" y1="892.6" x2="547.1999999999999" y2="899.9" stroke="#151515" stroke-width="0.9" />
<line x1="557.6" y1="892.6" x2="557.6" y2="899.9" stroke="#151515" stroke-width="0.9" />
<line x1="550.4" y1="892.6" x2="550.4" y2="904.2" stroke="#555" stroke-width="0.6" />
<line x1="554.4" y1="892.6" x2="554.4" y2="904.2" stroke="#555" stroke-width="0.6" />
<path d="M521,904.2 L521,920 Q521,921.5 523,922 L581.5,922 Q583.6,921.5 583.6,920 L583.6,904.2" fill="#fff" stroke="#151515" stroke-width="1.5" />
<line x1="522.5" y1="925" x2="582" y2="925" stroke="#151515" stroke-width="1.8" />
<path d="M433.5,925.6 C433.5,958 452,981 475.6,990.9 L485.4,982" fill="none" stroke="#151515" stroke-width="1.4" />
<path d="M579.9,925 C579.9,958 561,981 537.8,990.9 L528.1,982" fill="none" stroke="#151515" stroke-width="1.4" />
<line x1="475.6" y1="990.9" x2="475.6" y2="994.6" stroke="#151515" stroke-width="1.3" />
<line x1="537.8" y1="990.9" x2="537.8" y2="994.6" stroke="#151515" stroke-width="1.3" />
<path d="M485,934.5 C469,942 469,966 485.4,982 L486.4,982 L486.4,940 Z" fill="#fff" stroke="#151515" stroke-width="1.4" />
<path d="M483,938 C472,945 472,966 483.5,979" fill="none" stroke="#151515" stroke-width="0.9" />
<line x1="481.5" y1="942" x2="481.5" y2="980" stroke="#151515" stroke-width="1.2" />
<path d="M528.5,934.5 C544.5,942 544.5,966 528,982 L527,982 L527,940 Z" fill="#fff" stroke="#151515" stroke-width="1.4" />
<path d="M530.5,938 C541.5,945 541.5,966 530,979" fill="none" stroke="#151515" stroke-width="0.9" />
<line x1="532" y1="942" x2="532" y2="980" stroke="#151515" stroke-width="1.2" />
<path d="M490.7,925.7 Q506.7,936 522.3,925.7" fill="none" stroke="#151515" stroke-width="1.5" />
<path d="M491.5,925.5 L486.4,935.5 M522,925.5 L527.1,935.5" fill="none" stroke="#151515" stroke-width="1.3" />
<path d="M489.5,925.5 L484.6,935 M524,925.5 L528.9,935" fill="none" stroke="#151515" stroke-width="0.8" />
<path d="M486.8,934.4 C487.5,957.6 526,957.6 527.1,934.4" fill="none" stroke="#151515" stroke-width="1.4" />
<path d="M487,944 C490,958.5 523,958.5 526.5,944" fill="none" stroke="#151515" stroke-width="1.4" />
<rect x="466.3" y="994.6" width="81.3" height="4.3" fill="#fff" stroke="#151515" stroke-width="1.5" />
<rect x="470.6" y="998.9" width="73.1" height="23.8" fill="#fff" stroke="#151515" stroke-width="1.5" />
<rect x="498.5" y="998.9" width="16.4" height="6.9" fill="#fff" stroke="#151515" stroke-width="1.5" />
<rect x="502.25" y="994.6" width="8.9" height="11.2" fill="#fff" stroke="#151515" stroke-width="1.3" />
<line x1="506.7" y1="994.6" x2="506.7" y2="1005.8" stroke="#151515" stroke-width="1.3" />
<line x1="501.5" y1="998.9" x2="501.5" y2="1005.8" stroke="#151515" stroke-width="0.9" />
<line x1="511.9" y1="998.9" x2="511.9" y2="1005.8" stroke="#151515" stroke-width="0.9" />
<line x1="504.7" y1="994.6" x2="504.7" y2="1005.8" stroke="#555" stroke-width="0.6" />
<line x1="508.7" y1="994.6" x2="508.7" y2="1005.8" stroke="#555" stroke-width="0.6" />
<path d="M834.8,794 L834.8,786 Q835.5,772.5 850.1,770.7 L877.5,765.9 L877.5,878.8 L850.1,874 Q835.5,872 834.8,858 L834.8,850.3" fill="#fff" stroke="#151515" stroke-width="1.5" />
<line x1="834.8" y1="786" x2="834.8" y2="858" stroke="#151515" stroke-width="1.5" />
<line x1="850.1" y1="770.7" x2="850.1" y2="874" stroke="#151515" stroke-width="1.5" />
<line x1="180" y1="572" x2="755" y2="572" stroke="#151515" stroke-width="1.3" stroke-dasharray="17 4 1.4 2.9" stroke-dashoffset="-2"/>
<line x1="168.3" y1="405" x2="168.3" y2="572" stroke="#151515" stroke-width="1.3" stroke-dasharray="17 4 1.4 2.9" stroke-dashoffset="4"/>
<line x1="755" y1="404" x2="755" y2="572" stroke="#151515" stroke-width="1.3" stroke-dasharray="17 4 1.4 2.9" stroke-dashoffset="4"/>
<line x1="461.5" y1="533" x2="461.5" y2="949" stroke="#151515" stroke-width="1.3" stroke-dasharray="17 4 1.4 2.9" stroke-dashoffset="0"/>
<line x1="552.3" y1="756" x2="552.3" y2="960" stroke="#151515" stroke-width="1.3" stroke-dasharray="17 4 1.4 2.9" stroke-dashoffset="0"/>
<line x1="544" y1="822.3" x2="891.5" y2="822.3" stroke="#151515" stroke-width="1.3" stroke-dasharray="17 4 1.4 2.9" stroke-dashoffset="0"/>
<line x1="36.4" y1="418" x2="36.4" y2="1022.5" stroke="#283063" stroke-width="1.2" />
<polygon points="36.4,418 34.1,429 38.7,429" fill="#2a2a80"/>
<polygon points="36.4,1022.5 34.1,1011.5 38.7,1011.5" fill="#2a2a80"/>
<line x1="36.4" y1="418" x2="80.8" y2="418" stroke="#283063" stroke-width="1.2" />
<line x1="36.4" y1="1022.5" x2="462.8" y2="1022.5" stroke="#283063" stroke-width="1.2" />
<line x1="550.4" y1="1022.5" x2="679.7" y2="1022.5" stroke="#283063" stroke-width="1.2" />
<text x="0" y="0" transform="translate(36,711) rotate(-90)" font-size="16" text-anchor="middle" fill="#1e1e1e" >Max 428</text>
<line x1="69.8" y1="418" x2="69.8" y2="572" stroke="#283063" stroke-width="1.2" />
<polygon points="69.8,418 67.5,429 72.1,429" fill="#2a2a80"/>
<polygon points="69.8,572 67.5,561 72.1,561" fill="#2a2a80"/>
<line x1="69.8" y1="572" x2="180" y2="572" stroke="#283063" stroke-width="1.2" />
<text x="0" y="0" transform="translate(69.5,497.6) rotate(-90)" font-size="16" text-anchor="middle" fill="#1e1e1e" >109</text>
<line x1="866.1" y1="421.9" x2="866.1" y2="572.5" stroke="#283063" stroke-width="1.2" />
<polygon points="866.1,421.9 863.8,432.9 868.4,432.9" fill="#2a2a80"/>
<polygon points="866.1,572.5 863.8,561.5 868.4,561.5" fill="#2a2a80"/>
<line x1="853.4" y1="421.9" x2="866.1" y2="421.9" stroke="#283063" stroke-width="1.2" />
<line x1="755" y1="572.3" x2="866.1" y2="572.3" stroke="#283063" stroke-width="1.2" />
<text x="0" y="0" transform="translate(865.8,496) rotate(-90)" font-size="16" text-anchor="middle" fill="#1e1e1e" >105</text>
<line x1="87.3" y1="393" x2="249" y2="393" stroke="#283063" stroke-width="1.2" />
<polygon points="87.3,393 98.3,390.7 98.3,395.3" fill="#2a2a80"/>
<polygon points="249,393 238,390.7 238,395.3" fill="#2a2a80"/>
<line x1="87.3" y1="393" x2="87.3" y2="417.6" stroke="#283063" stroke-width="1.2" />
<line x1="249" y1="393" x2="249" y2="417.6" stroke="#283063" stroke-width="1.2" />
<text x="148" y="392" font-size="16" text-anchor="start" fill="#1e1e1e" >&#934;114</text>
<line x1="674.3" y1="387.9" x2="835.8" y2="387.9" stroke="#283063" stroke-width="1.2" />
<polygon points="674.3,387.9 685.3,385.6 685.3,390.2" fill="#2a2a80"/>
<polygon points="835.8,387.9 824.8,385.6 824.8,390.2" fill="#2a2a80"/>
<line x1="674.3" y1="387.9" x2="674.3" y2="415.2" stroke="#283063" stroke-width="1.2" />
<line x1="835.8" y1="387.9" x2="835.8" y2="415.2" stroke="#283063" stroke-width="1.2" />
<text x="736" y="387.5" font-size="16" text-anchor="start" fill="#1e1e1e" >&#934;114</text>
<line x1="325.7" y1="147.1" x2="391.7" y2="147.1" stroke="#283063" stroke-width="1.2" />
<polygon points="328.3,147.1 339.3,144.8 339.3,149.4" fill="#2a2a80"/>
<polygon points="389.8,147.1 378.8,144.8 378.8,149.4" fill="#2a2a80"/>
<line x1="328.3" y1="147.1" x2="328.3" y2="188" stroke="#283063" stroke-width="1.2" />
<line x1="389.8" y1="147.1" x2="389.8" y2="188" stroke="#283063" stroke-width="1.2" />
<text x="344.3" y="146.4" font-size="16" text-anchor="start" fill="#1e1e1e" >&#934;43</text>
<line x1="572" y1="29.1" x2="639" y2="29.1" stroke="#283063" stroke-width="1.2" />
<polygon points="573.5,29.1 584.5,26.8 584.5,31.4" fill="#2a2a80"/>
<polygon points="637.3,29.1 626.3,26.8 626.3,31.4" fill="#2a2a80"/>
<line x1="573.5" y1="29.1" x2="573.5" y2="79.3" stroke="#283063" stroke-width="1.2" />
<line x1="637.3" y1="29.1" x2="637.3" y2="79.3" stroke="#283063" stroke-width="1.2" />
<text x="604.8" y="28.3" font-size="16" text-anchor="middle" fill="#1e1e1e" >&#981;45</text>
<line x1="583" y1="56.1" x2="627" y2="56.1" stroke="#283063" stroke-width="1.2" />
<polygon points="585.3,56.1 596.3,53.8 596.3,58.4" fill="#2a2a80"/>
<polygon points="625,56.1 614,53.8 614,58.4" fill="#2a2a80"/>
<line x1="585.3" y1="56.1" x2="585.3" y2="66.3" stroke="#283063" stroke-width="1.2" />
<line x1="625" y1="56.1" x2="625" y2="66.3" stroke="#283063" stroke-width="1.2" />
<text x="605" y="55" font-size="16" text-anchor="middle" fill="#1e1e1e" >&#981;28</text>
<line x1="578.6" y1="176.2" x2="666" y2="176.2" stroke="#283063" stroke-width="1.2" />
<polygon points="580.5,176.2 591.5,173.9 591.5,178.5" fill="#2a2a80"/>
<polygon points="629.9,176.2 618.9,173.9 618.9,178.5" fill="#2a2a80"/>
<line x1="580.5" y1="143.6" x2="580.5" y2="176.2" stroke="#283063" stroke-width="1.2" />
<line x1="629.9" y1="143.6" x2="629.9" y2="176.2" stroke="#283063" stroke-width="1.2" />
<text x="640" y="175.4" font-size="16" text-anchor="start" fill="#1e1e1e" >&#981;35</text>
<line x1="326.5" y1="542.6" x2="326.5" y2="639.5" stroke="#283063" stroke-width="1.2" />
<polygon points="326.5,545.8 324.2,556.8 328.8,556.8" fill="#2a2a80"/>
<polygon points="326.5,602.4 324.2,591.4 328.8,591.4" fill="#2a2a80"/>
<text x="0" y="0" transform="translate(326,624.5) rotate(-90)" font-size="16" text-anchor="middle" fill="#1e1e1e" >&#934;40</text>
<line x1="607.2" y1="542.6" x2="607.2" y2="639.5" stroke="#283063" stroke-width="1.2" />
<polygon points="607.2,545.8 604.9,556.8 609.5,556.8" fill="#2a2a80"/>
<polygon points="607.2,602.4 604.9,591.4 609.5,591.4" fill="#2a2a80"/>
<text x="0" y="0" transform="translate(606.7,624.5) rotate(-90)" font-size="16" text-anchor="middle" fill="#1e1e1e" >&#934;40</text>
<line x1="166.8" y1="720.4" x2="756.2" y2="720.4" stroke="#283063" stroke-width="1.2" />
<polygon points="166.8,720.4 177.8,718.1 177.8,722.7" fill="#2a2a80"/>
<polygon points="461.5,720.4 450.5,718.1 450.5,722.7" fill="#2a2a80"/>
<polygon points="461.5,720.4 472.5,718.1 472.5,722.7" fill="#2a2a80"/>
<polygon points="756.2,720.4 745.2,718.1 745.2,722.7" fill="#2a2a80"/>
<line x1="168.3" y1="572" x2="168.3" y2="720.4" stroke="#283063" stroke-width="1.2" />
<line x1="755" y1="572" x2="755" y2="720.4" stroke="#283063" stroke-width="1.2" />
<text x="314.5" y="719.8" font-size="16" text-anchor="middle" fill="#1e1e1e" >208</text>
<text x="608.2" y="719.8" font-size="16" text-anchor="middle" fill="#1e1e1e" >208</text>
<line x1="394.2" y1="753.3" x2="491.3" y2="753.3" stroke="#283063" stroke-width="1.2" />
<polygon points="433.1,753.3 444.1,751.0 444.1,755.6" fill="#2a2a80"/>
<polygon points="490,753.3 479,751.0 479,755.6" fill="#2a2a80"/>
<text x="393.3" y="752.4" font-size="16" text-anchor="start" fill="#1e1e1e" >&#934;40</text>
<line x1="461.4" y1="1045.2" x2="552.6" y2="1045.2" stroke="#283063" stroke-width="1.2" />
<polygon points="461.4,1045.2 472.4,1042.9 472.4,1047.5" fill="#2a2a80"/>
<polygon points="552.6,1045.2 541.6,1042.9 541.6,1047.5" fill="#2a2a80"/>
<text x="506.3" y="1044.5" font-size="16" text-anchor="middle" fill="#1e1e1e" >64</text>
<line x1="461.4" y1="949" x2="461.4" y2="1060.6" stroke="#283063" stroke-width="1.2" />
<line x1="552.6" y1="975" x2="552.6" y2="1045.2" stroke="#283063" stroke-width="1.2" />
<line x1="461.4" y1="1060" x2="877.5" y2="1060" stroke="#283063" stroke-width="1.2" />
<polygon points="461.4,1060 472.4,1057.7 472.4,1062.3" fill="#2a2a80"/>
<polygon points="877.5,1060 866.5,1057.7 866.5,1062.3" fill="#2a2a80"/>
<line x1="877.5" y1="890.5" x2="877.5" y2="1060" stroke="#283063" stroke-width="1.2" />
<text x="668.7" y="1059" font-size="16" text-anchor="middle" fill="#1e1e1e" >294</text>
<line x1="679.7" y1="822.3" x2="679.7" y2="1022.5" stroke="#283063" stroke-width="1.2" />
<polygon points="679.7,822.3 677.4,833.3 682.0,833.3" fill="#2a2a80"/>
<polygon points="679.7,1022.5 677.4,1011.5 682.0,1011.5" fill="#2a2a80"/>
<text x="0" y="0" transform="translate(679.2,923) rotate(-90)" font-size="16" text-anchor="middle" fill="#1e1e1e" >142</text>
<line x1="777.5" y1="790.5" x2="777.5" y2="890.5" stroke="#283063" stroke-width="1.2" />
<polygon points="777.5,793.8 775.2,804.8 779.8,804.8" fill="#2a2a80"/>
<polygon points="777.5,850.3 775.2,839.3 779.8,839.3" fill="#2a2a80"/>
<line x1="777.5" y1="793.8" x2="782" y2="793.8" stroke="#283063" stroke-width="0.8" />
<line x1="777.5" y1="850.3" x2="782" y2="850.3" stroke="#283063" stroke-width="0.8" />
<text x="0" y="0" transform="translate(777,876) rotate(-90)" font-size="16" text-anchor="middle" fill="#1e1e1e" >&#934;40</text>
<line x1="911.3" y1="763.5" x2="911.3" y2="877" stroke="#283063" stroke-width="1.2" />
<polygon points="911.3,763.5 909.0,774.5 913.6,774.5" fill="#2a2a80"/>
<polygon points="911.3,877 909.0,866 913.6,866" fill="#2a2a80"/>
<line x1="884.3" y1="763.5" x2="912.2" y2="763.5" stroke="#283063" stroke-width="1.2" />
<line x1="884.3" y1="877" x2="912.2" y2="877" stroke="#283063" stroke-width="1.2" />
<text x="0" y="0" transform="translate(911,819.8) rotate(-90)" font-size="16" text-anchor="middle" fill="#1e1e1e" >&#934;80</text>
</svg>
</body></html>
